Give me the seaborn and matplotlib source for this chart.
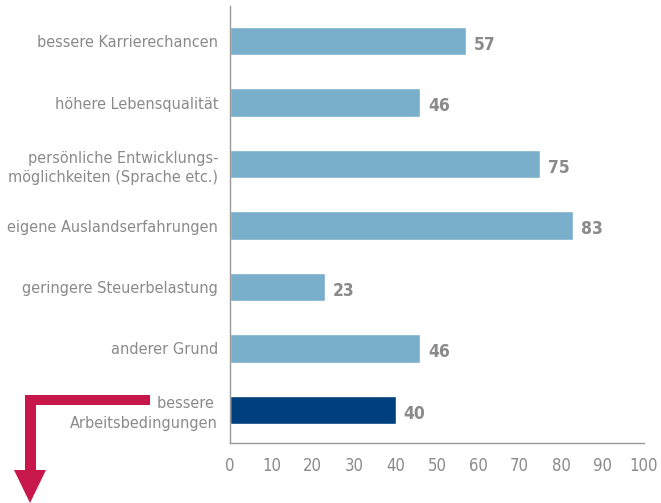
import matplotlib
matplotlib.use("Agg")
import matplotlib.pyplot as plt
import seaborn as sn
import pandas as pd
from matplotlib.patches import Polygon

# Data
categories = [
    "bessere Karrierechancen",
    "höhere Lebensqualität",
    "persönliche Entwicklungs-\nmöglichkeiten (Sprache etc.)",
    "eigene Auslandserfahrungen",
    "geringere Steuerbelastung",
    "anderer Grund",
    "bessere \nArbeitsbedingungen",
]
values = [57, 46, 75, 83, 23, 46, 40]
highlight = [False, False, False, False, False, False, True]
x_ticks = [0, 10, 20, 30, 40, 50, 60, 70, 80, 90, 100]

light_blue = "#7aafcb"
dark_blue = "#003f7d"
text_grey = "#8a8a8a"
arrow_red = "#c8174a"

df = pd.DataFrame({"reason": categories, "value": values,
                   "group": ["hl" if h else "normal" for h in highlight]})

sn.set_style("white")
plt.rcParams["font.family"] = ["DejaVu Sans"]
plt.rcParams["font.stretch"] = "condensed"

fig = plt.figure(figsize=(6.61, 5.03), dpi=100)
ax = fig.add_axes([0.348, 0.119, 0.626, 0.869])

sn.barplot(data=df, x="value", y="reason", hue="group",
           palette={"normal": light_blue, "hl": dark_blue},
           dodge=False, width=0.46, legend=False, ax=ax, saturation=1)

for i, v in enumerate(values):
    ax.text(v + 1.8, i + 0.06, str(v), va="center", ha="left",
            fontsize=12.5, fontweight="bold", color=text_grey)

ax.set_xlim(0, 100)
ax.set_ylim(6.54, -0.57)
ax.set_xticks(x_ticks)
ax.set_xticklabels([str(t) for t in x_ticks], fontsize=12, color=text_grey)
ax.tick_params(axis="x", direction="out", length=5, width=1, color="#999999", pad=5)
ax.tick_params(axis="y", length=0, pad=8.5, labelsize=11.6, labelcolor=text_grey)
for lbl in ax.get_yticklabels():
    lbl.set_linespacing(1.35)
ax.set_xlabel("")
ax.set_ylabel("")

for side in ["top", "right"]:
    ax.spines[side].set_visible(False)
for side in ["left", "bottom"]:
    ax.spines[side].set_color("#999999")
    ax.spines[side].set_linewidth(1)

# red L-shaped arrow, in figure pixels (origin bottom left)
H = 503
pts = [(150, H - 395), (25, H - 395), (25, H - 470), (14, H - 470),
       (30, H - 503), (46, H - 470), (36, H - 470), (36, H - 405),
       (150, H - 405)]
pts = [(x / 661, y / H) for x, y in pts]
fig.patches.append(Polygon(pts, closed=True, transform=fig.transFigure,
                           facecolor=arrow_red, edgecolor="none"))

fig.savefig("out.png", dpi=100)
